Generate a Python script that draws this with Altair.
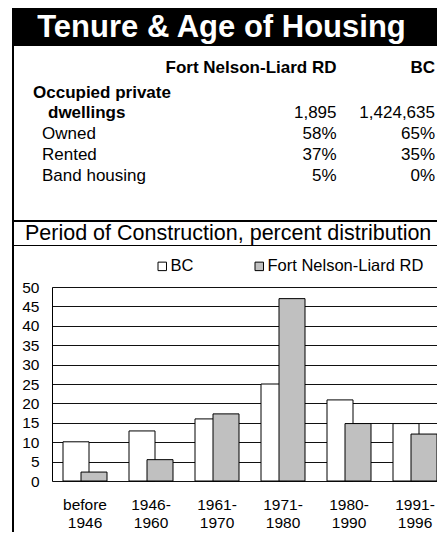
import altair as alt
import pandas as pd

# ---------------- data ----------------
title_text = "Tenure & Age of Housing"
chart_title = "Period of Construction, percent distribution"
series = ["Fort Nelson-Liard RD", "BC"]
tenure_rows = ["Occupied private dwellings", "Owned", "Rented", "Band housing"]
fort_tenure = ["1,895", "58%", "37%", "5%"]
bc_tenure = ["1,424,635", "65%", "35%", "0%"]
periods = ["before 1946", "1946-1960", "1961-1970", "1971-1980", "1980-1990", "1991-1996"]
bc_pct = [10.1, 12.9, 16.0, 25.0, 20.9, 14.8]
fort_pct = [2.3, 5.5, 17.3, 47.0, 14.8, 12.1]
legend_order = ["BC", "Fort Nelson-Liard RD"]

FONT = "Liberation Sans"

bars_df = pd.DataFrame({
    "period": periods * 2,
    "series": ["BC"] * len(periods) + ["Fort Nelson-Liard RD"] * len(periods),
    "pct": bc_pct + fort_pct,
})
table_df = pd.DataFrame({
    "row": tenure_rows * 2,
    "series": [series[0]] * len(tenure_rows) + [series[1]] * len(tenure_rows),
    "value": fort_tenure + bc_tenure,
})
rows_df = pd.DataFrame({"row": tenure_rows})
header_df = pd.DataFrame({"series": series})
one = pd.DataFrame({"t": [title_text], "c": [chart_title]})

# ---------------- bar chart ----------------
x_scale = alt.Scale(domain=periods, range=[0, 396], paddingInner=0, paddingOuter=0)
y_scale = alt.Scale(domain=[0, 50], nice=False)
fill_scale = alt.Scale(domain=legend_order, range=["#ffffff", "#c0c0c0"])

base = alt.Chart(bars_df).encode(
    x=alt.X("period:N", scale=x_scale, sort=periods, title=None,
            axis=alt.Axis(labelAngle=0, ticks=False, domain=False, grid=False,
                          labelFontSize=15.5, labelColor="black", labelLineHeight=18,
                          labelPadding=16, labelBaseline="top",
                          labelExpr="indexof(datum.label, ' ') >= 0 ? split(datum.label, ' ') : [slice(datum.label, 0, 5), slice(datum.label, 5)]")),
    y=alt.Y("pct:Q", scale=y_scale, title=None,
            axis=alt.Axis(values=list(range(0, 55, 5)), ticks=False, grid=True,
                          gridColor="#111111", gridWidth=1, domain=True,
                          domainColor="black", labelFontSize=15.5, labelColor="black",
                          labelPadding=13)),
    fill=alt.Fill("series:N", scale=fill_scale,
                  legend=alt.Legend(orient="none", legendX=102, legendY=-29,
                                    direction="horizontal", title=None,
                                    symbolType="square", symbolSize=72,
                                    symbolStrokeColor="black", symbolStrokeWidth=1,
                                    labelFontSize=16.5, labelColor="black",
                                    labelOffset=0, columnPadding=57, padding=0)),
)
white = base.transform_filter(alt.datum.series == "BC").mark_bar(
    width=26, xOffset=-9, stroke="black", strokeWidth=1)
gray = base.transform_filter(alt.datum.series == "Fort Nelson-Liard RD").mark_bar(
    width=26, xOffset=9, stroke="black", strokeWidth=1)
bars = alt.layer(white, gray)

# ---------------- table / decorations ----------------
title_bar = alt.Chart(one).mark_rect(color="black").encode(
    x=alt.value(-40), x2=alt.value(386), y=alt.value(-280), y2=alt.value(-241))
title_txt = alt.Chart(one).mark_text(
    color="white", fontWeight="bold", fontSize=31, align="center",
    baseline="alphabetic").encode(x=alt.value(169.5), y=alt.value(-250), text="t:N")
left_border = alt.Chart(one).mark_rule(color="black", strokeWidth=2).encode(
    x=alt.value(-39), y=alt.value(-280), y2=alt.value(260))
thick_line = alt.Chart(one).mark_rule(color="black", strokeWidth=2).encode(
    x=alt.value(-40), x2=alt.value(386), y=alt.value(-66))
thin_line = alt.Chart(one).mark_rule(color="black", strokeWidth=1).encode(
    x=alt.value(-40), x2=alt.value(386), y=alt.value(-41.5))
period_txt = alt.Chart(one).mark_text(
    fontSize=21.5, align="left", baseline="middle", color="black").encode(
    x=alt.value(-27), y=alt.value(-53), text="c:N")

col_x = alt.X("series:N", scale=alt.Scale(domain=series, range=[284.5, 383], padding=0), axis=None)
row_y = alt.Y("row:N", scale=alt.Scale(domain=tenure_rows, range=[-174, -111.5], padding=0), axis=None)

headers = alt.Chart(header_df).mark_text(
    fontWeight="bold", fontSize=17, align="right", baseline="middle", color="black").encode(
    x=col_x, y=alt.value(-219.5), text="series:N")
occ1 = alt.Chart(rows_df).transform_filter(alt.datum.row == tenure_rows[0]).transform_calculate(
    lbl="slice(datum.row, 0, 16)").mark_text(
    fontWeight="bold", fontSize=17, align="left", baseline="middle", dy=-20, color="black").encode(
    x=alt.value(-19), y=row_y, text="lbl:N")
occ2 = alt.Chart(rows_df).transform_filter(alt.datum.row == tenure_rows[0]).transform_calculate(
    lbl="slice(datum.row, 17)").mark_text(
    fontWeight="bold", fontSize=17, align="left", baseline="middle", color="black").encode(
    x=alt.value(-4), y=row_y, text="lbl:N")
rows = alt.Chart(rows_df).transform_filter(alt.datum.row != tenure_rows[0]).mark_text(
    fontSize=17, align="left", baseline="middle", color="black").encode(
    x=alt.value(-10), y=row_y, text="row:N")
values = alt.Chart(table_df).mark_text(
    fontSize=17, align="right", baseline="middle", color="black").encode(
    x=col_x, y=row_y, text="value:N")

chart = alt.layer(
    title_bar, title_txt, left_border, thick_line, thin_line, period_txt,
    headers, occ1, occ2, rows, values, bars
).resolve_scale(
    x="independent", y="independent"
).properties(
    width=385, height=194,
    autosize=alt.AutoSizeParams(type="none"),
    padding={"left": 44, "top": 279, "right": 0, "bottom": 51},
).configure_view(stroke=None).configure(font=FONT)

chart.save("out.html", embed_options={"renderer": "svg", "actions": False})
